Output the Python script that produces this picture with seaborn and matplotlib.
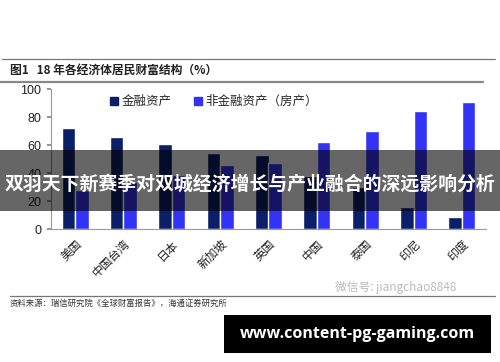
import matplotlib
matplotlib.use("Agg")
import matplotlib.pyplot as plt
import matplotlib.patches as mpatches
from matplotlib.lines import Line2D
import numpy as np
import pandas as pd
import seaborn as sns

categories = ["美国", "中国台湾", "日本", "新加坡", "英国", "中国", "泰国", "印尼", "印度"]
financial = [72, 66, 61, 54, 53, 38, 30, 16, 9]
non_financial = [28, 34, 39, 46, 47, 62, 70, 84, 91]
series_names = ["金融资产", "非金融资产（房产）"]
y_ticks = [0, 20, 40, 60, 80, 100]

sns.set_theme(style="white")
plt.rcParams['font.family'] = ['Noto Sans CJK SC', 'DejaVu Sans']

df = pd.DataFrame({
    "cat": categories * 2,
    "val": financial + non_financial,
    "series": [series_names[0]] * len(categories) + [series_names[1]] * len(categories),
})

colors = ["#0b1f68", "#3333f6"]

fig = plt.figure(figsize=(5.0, 3.62), dpi=100)
ax = fig.add_axes([0.102, 0.367, 0.87, 0.387])
sns.barplot(data=df, x="cat", y="val", hue="series", order=categories,
            hue_order=series_names, palette=colors, width=0.56, gap=0,
            saturation=1, errorbar=None, ax=ax, legend=False)

ax.set_ylim(0, 100)
ax.set_xlim(-0.5, len(categories) - 0.5)
ax.set_yticks(y_ticks)
ax.set_yticklabels([str(t) for t in y_ticks], family=['Liberation Sans', 'DejaVu Sans'], fontsize=9, color="#222222")
ax.set_xlabel("")
ax.set_ylabel("")
ax.set_xticks(range(len(categories)))
ax.set_xticklabels(categories, rotation=45, ha="right", va="top", fontsize=8.5, color="#222222",
                   rotation_mode="anchor")
ax.tick_params(axis="x", which="major", length=0, pad=6)
ax.set_xticks(np.arange(-0.5, len(categories) + 0.5, 1), minor=True)
ax.tick_params(axis="x", which="minor", length=3, color="#888888", direction="out")
ax.tick_params(axis="y", length=3, color="#888888", direction="out", left=True, pad=4)
for s in ["top", "right"]:
    ax.spines[s].set_visible(False)
for s in ["left", "bottom"]:
    ax.spines[s].set_color("#999999")
    ax.spines[s].set_linewidth(0.8)
ax.set_facecolor("white")

handles = [mpatches.Patch(color=c, label=n) for c, n in zip(colors, series_names)]
leg = ax.legend(handles=handles, loc="center", bbox_to_anchor=(0.375, 0.91), ncol=2, frameon=False,
                fontsize=9, handlelength=0.6, handleheight=0.6, handletextpad=0.3, columnspacing=1.8)

# header lines and title
fig.add_artist(Line2D([0.004, 0.99], [0.837, 0.837], color="#777777", lw=0.9))
fig.add_artist(Line2D([0.0, 0.966], [0.774, 0.774], color="#888888", lw=1.6))
fig.text(0.02, 0.805, "图1   18 年各经济体居民财富结构（%）", fontsize=8.5, fontweight="bold",
         color="#222222", va="center", ha="left")

# bottom rule and source
fig.add_artist(Line2D([0.02, 0.99], [0.182, 0.182], color="#777777", lw=0.9))
fig.text(0.02, 0.162, "资料来源：瑞信研究院《全球财富报告》，海通证券研究所", fontsize=6, color="#333333",
         va="center", ha="left")

# watermark
fig.text(0.67, 0.207, "微信号: jiangchao8848", fontsize=8.5, color="#bbbbbb", va="center", ha="left")

# banner
fig.add_artist(mpatches.Rectangle((0, 0.417), 1.0, 0.169, transform=fig.transFigure,
                                  facecolor="black", alpha=0.6, edgecolor="none", zorder=10))
fig.text(0.5, 0.49, "双羽天下新赛季对双城经济增长与产业融合的深远影响分析", fontsize=13.6,
         fontweight="bold", color="white", va="center", ha="center", zorder=11)

# bottom black box
fig.add_artist(mpatches.Rectangle((0.448, 0.026), 0.534, 0.104, transform=fig.transFigure,
                                  facecolor="black", edgecolor="none", zorder=10))
fig.text(0.715, 0.078, "www.content-pg-gaming.com", fontsize=11.5, fontweight="bold",
         family=["Open Sans", "DejaVu Sans"], color="white", va="center", ha="center", zorder=11)

fig.savefig("out.png", dpi=100)
